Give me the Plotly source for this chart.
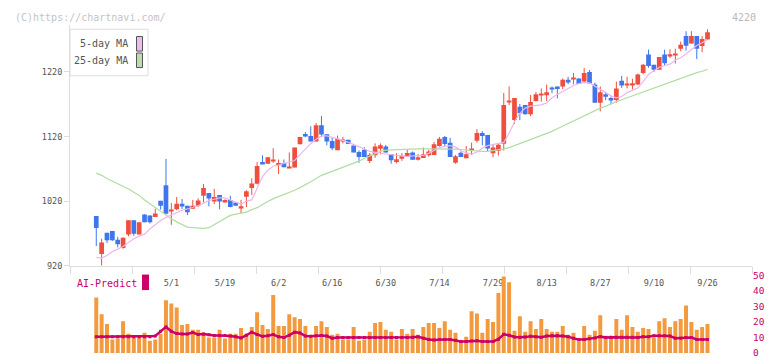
import plotly.graph_objects as go
import pandas as pd

# ---- calendar (trading days, 2025, Tokyo) ----
holidays = ["2025-04-29", "2025-05-05", "2025-05-06", "2025-07-21",
            "2025-08-11", "2025-09-15", "2025-09-23"]
_days = [d for d in pd.bdate_range("2025-04-10", "2025-09-26")
         if d.strftime("%Y-%m-%d") not in holidays]
dates = [f"{d.month}/{d.day}" for d in _days]

label_dates = ["5/1", "5/19", "6/2", "6/16", "6/30", "7/14", "7/29",
               "8/13", "8/27", "9/10", "9/26"]

# ---- OHLC ----
opens = [997, 938.5, 971, 974, 960.5, 947.5, 968.5, 990.5, 968.5, 999.5,
         998, 995.5, 1020.5, 1044.5, 1004.5, 1007.5, 1016, 1013, 1008.5, 1013,
         1028.5, 1032.5, 1019.5, 1029.5, 1019.5, 1022, 1018, 1009.5, 1027, 1040.5,
         1047, 1080.5, 1078, 1083, 1075.5, 1079, 1072, 1072, 1108, 1124,
         1121, 1112.5, 1137.5, 1123.5, 1113, 1099, 1113.5, 1115, 1106, 1096,
         1099.5, 1082, 1091, 1101, 1104.5, 1093, 1080.5, 1085.5, 1090, 1095.5,
         1084, 1087, 1091, 1091.5, 1105.5, 1119.5, 1110.5, 1079.5, 1095, 1086.5,
         1099, 1113.5, 1125.5, 1122.5, 1094, 1098, 1109, 1174, 1145.5, 1166,
         1169, 1154.5, 1175, 1185, 1184, 1196, 1197.5, 1197.5, 1208, 1209,
         1210, 1205, 1220, 1200.5, 1172.5, 1185.5, 1179.5, 1176.5, 1206.5, 1200,
         1199, 1200.5, 1218.5, 1247, 1231, 1223.5, 1247, 1244.5, 1246, 1256,
         1275.5, 1264, 1275.5, 1260, 1270]
highs = [997, 962, 971, 974, 965, 964, 990.5, 990.5, 987.5, 999.5,
         998, 1008.5, 1020.5, 1085.5, 1017, 1026.5, 1023.5, 1013, 1022, 1024.5,
         1046.5, 1032.5, 1039, 1029.5, 1023, 1028.5, 1018, 1022, 1037, 1055.5,
         1080.5, 1091, 1088, 1102, 1084.5, 1084.5, 1095.5, 1103, 1119.5, 1127,
         1136, 1141, 1152, 1123.5, 1118, 1121.5, 1119.5, 1115, 1106, 1098.5,
         1103.5, 1094.5, 1109.5, 1109.5, 1107, 1093, 1094.5, 1094.5, 1099.5, 1097,
         1093, 1103, 1099.5, 1112, 1119.5, 1121, 1118, 1091.5, 1097, 1105.5,
         1110.5, 1131.5, 1128.5, 1122.5, 1108.5, 1108.5, 1187.5, 1197.5, 1179.5, 1170.5,
         1169, 1184.5, 1189, 1194.5, 1200.5, 1197.5, 1197.5, 1210, 1212.5, 1218.5,
         1210, 1226, 1223, 1203.5, 1197.5, 1189, 1182, 1205, 1214, 1212.5,
         1209.5, 1217.5, 1232.5, 1254.5, 1231, 1243, 1254.5, 1255, 1256, 1267,
         1283, 1283, 1275.5, 1275.5, 1286]
lows = [950.5, 920.5, 955.5, 958.5, 948.5, 946.5, 965.5, 966.5, 968.5, 987.5,
        985.5, 995.5, 1007, 999.5, 983.5, 1006, 1008, 998.5, 1008.5, 1011,
        1018, 1012, 1015.5, 1007.5, 1018, 1010.5, 1013, 1001, 1011, 1029.5,
        1046, 1078, 1078, 1079.5, 1062, 1072.5, 1071, 1072, 1108, 1119,
        1112.5, 1112.5, 1119.5, 1106.5, 1099, 1099, 1109.5, 1108.5, 1095.5, 1079.5,
        1088.5, 1079, 1087, 1092.5, 1095.5, 1078, 1078.5, 1082.5, 1090, 1084,
        1083, 1087, 1089, 1091.5, 1104.5, 1105.5, 1088.5, 1078, 1088.5, 1086.5,
        1091.5, 1110.5, 1106.5, 1097.5, 1088, 1090.5, 1098.5, 1168.5, 1139.5, 1145.5,
        1154, 1151.5, 1174, 1174, 1175, 1187, 1179, 1193.5, 1201, 1201,
        1201.5, 1202.5, 1202, 1172.5, 1159, 1176.5, 1170, 1172.5, 1195, 1194.5,
        1193, 1200, 1216.5, 1226.5, 1220, 1223.5, 1229, 1241.5, 1233, 1252,
        1253, 1264, 1240, 1250.5, 1270]
closes = [978.5, 956, 959.5, 959.5, 953.5, 963.5, 990.5, 969.5, 987.5, 987.5,
          987.5, 1001, 1013, 1000.5, 1007, 1016, 1013, 1003, 1013, 1021,
          1040.5, 1024, 1026.5, 1019.5, 1022, 1011, 1013, 1012, 1035.5, 1047.5,
          1074.5, 1078, 1088, 1083.5, 1079, 1072.5, 1073, 1103, 1119.5, 1120,
          1112.5, 1137.5, 1123, 1112.5, 1102, 1116.5, 1115, 1108.5, 1095.5, 1088.5,
          1088.5, 1092, 1104.5, 1106.5, 1095.5, 1083.5, 1085, 1090.5, 1094.5, 1084,
          1088, 1092.5, 1097, 1108, 1116.5, 1108.5, 1088.5, 1089.5, 1088.5, 1092.5,
          1101.5, 1125.5, 1121, 1101.5, 1103, 1107.5, 1169, 1175.5, 1179.5, 1156,
          1154.5, 1173.5, 1185.5, 1185.5, 1188.5, 1193, 1193.5, 1208, 1203.5, 1210,
          1201.5, 1218.5, 1202, 1172.5, 1188.5, 1181.5, 1177, 1194.5, 1199, 1201.5,
          1202.5, 1216, 1231, 1229, 1223.5, 1243, 1233.5, 1247.5, 1248.5, 1262,
          1260.5, 1275.5, 1256, 1271, 1281.5]

# ---- moving averages ----
ma5 = [933, 932, 936, 942, 946, 950, 956, 962, 966, 969,
       977, 984, 990, 995, 999, 1003, 1006, 1008, 1010, 1013,
       1017, 1021, 1023, 1025, 1025, 1022, 1018, 1015, 1020, 1022,
       1040, 1058, 1068, 1074, 1076, 1078, 1080, 1083, 1092, 1101,
       1109, 1116, 1121, 1121, 1119, 1117, 1114, 1111, 1108, 1104,
       1101, 1097, 1095, 1094, 1093, 1092, 1090, 1089, 1089, 1090,
       1090, 1091, 1094, 1099, 1103, 1105, 1106, 1104, 1098, 1095,
       1093, 1096, 1102, 1106, 1108, 1110, 1111, 1125, 1143, 1156,
       1164, 1167, 1168, 1169, 1172, 1180, 1185, 1190, 1194, 1199,
       1202, 1204, 1203, 1198, 1192, 1187, 1183, 1180, 1182, 1188,
       1192, 1195, 1205, 1216, 1222, 1227, 1230, 1232, 1238, 1242,
       1248, 1255, 1261, 1265, 1270]
ma25 = [1063.5, 1060, 1055, 1051, 1047, 1044, 1039, 1034, 1029, 1022,
        1016, 1010, 1004, 999, 993, 988, 984, 980, 979, 978,
        978, 979, 984, 989, 994, 998, 1000, 1001, 1003, 1007,
        1010, 1015, 1020, 1024, 1027, 1030, 1033, 1037, 1041, 1045,
        1050, 1055, 1060, 1063, 1066, 1069, 1072, 1075, 1078, 1082,
        1086, 1090, 1094, 1097, 1099, 1099.5, 1099.5, 1099.5, 1100, 1100.5,
        1101, 1101, 1101, 1101.5, 1101.5, 1101, 1101, 1100.5, 1100, 1099,
        1098, 1097, 1097, 1097, 1098, 1099, 1101, 1103, 1106, 1109,
        1112, 1115, 1118, 1121, 1125, 1128, 1132, 1136, 1141, 1145,
        1149, 1153, 1157, 1161, 1164, 1167, 1171, 1174, 1177, 1180,
        1184, 1187, 1190, 1193, 1196, 1199, 1202, 1205, 1208, 1211,
        1214, 1216, 1219, 1221, 1224]

# ---- volume and AI-Predict ----
volume = [35.8, 25, 18.75, 8.75, 9.4, 20.6, 12.5, 10, 10, 13.1,
          8, 8.75, 12.5, 34, 31.9, 29.4, 18.1, 18.75, 15, 15,
          13.1, 10, 10, 15, 9.4, 12.5, 12.5, 16.25, 12.5, 16.9,
          26.25, 18.1, 15.6, 37.5, 17.5, 17.5, 25, 23.1, 21.9, 17.5,
          10, 17.5, 20.6, 16.9, 11.9, 12.5, 8.75, 8.75, 16.9, 8,
          8.75, 13.75, 19.4, 20, 15, 13.75, 8.75, 15.6, 12.5, 15.6,
          11.9, 16.9, 19.4, 19.4, 16.25, 20.6, 15, 13.1, 7.5, 10.6,
          26.9, 25.6, 13.1, 21.9, 20, 38.75, 49.4, 45.6, 14.4, 23.75,
          13.75, 20.6, 15.6, 21.9, 15.6, 13.75, 13.75, 17.5, 11.9, 13.1,
          8, 17.5, 11.9, 14.4, 24.4, 11.25, 10, 21.9, 15, 24.4,
          16.9, 13.75, 16.25, 15.6, 10, 20.6, 22.5, 16.9, 20.6, 21.9,
          30.6, 20, 15, 16.9, 18.75]
ai_predict = [10.6, 10.6, 10.6, 10.6, 10.6, 10.6, 10.6, 10.6, 10.6, 10.6,
              10.6, 11, 14, 16.9, 14, 12.6, 12.3, 12.3, 13.2, 12,
              12.3, 11.8, 11.3, 11.3, 11.3, 11, 10.5, 9.8, 11.5, 13.5,
              12, 10.8, 11.2, 12, 10.5, 10, 11.5, 13.5, 13, 11,
              10.8, 11.2, 11.3, 11, 9.6, 10, 10, 10, 10, 10,
              10, 10, 10, 10, 10, 10, 10, 10, 10, 10.2,
              10.5, 9.6, 8.75, 8.5, 8.75, 8.75, 8.75, 8.2, 7.5, 7.5,
              7.8, 8, 7.5, 7.5, 7.5, 9, 12.1, 11.5, 10.4, 10.2,
              10.3, 10.9, 10.5, 10.2, 11, 11.25, 11.25, 11, 10.6, 9.5,
              8.75, 8.75, 9.2, 9.8, 10.6, 10, 10.2, 10.2, 10.2, 10.2,
              10.2, 10, 10.6, 10.6, 11.25, 11.25, 11.25, 11, 9.6, 9.6,
              10, 10, 8.75, 8.75, 8.75]

# ---- styling ----
W, H = 772, 361
UP, DOWN = "#ef4f3f", "#3f76ee"
FONT = "DejaVu Sans Mono"
AX = "#dddddd"
MAG = "#cc0066"


def px(x):
    return x / W


def py(y):
    return 1 - y / H


idx = list(range(len(dates)))
XR = [-4.9, 122.3]

fig = go.Figure()

# wicks
for col, cond in ((UP, lambda o, c: c >= o), (DOWN, lambda o, c: c < o)):
    wx, wy = [], []
    for i in idx:
        if cond(opens[i], closes[i]):
            wx += [i, i, None]
            wy += [lows[i], highs[i], None]
    fig.add_trace(go.Scatter(x=wx, y=wy, mode="lines", line=dict(color=col, width=1),
                             hoverinfo="skip", showlegend=False, xaxis="x", yaxis="y"))

# bodies
base = [min(o, c) for o, c in zip(opens, closes)]
height = [max(abs(c - o), 1.5) for o, c in zip(opens, closes)]
bcol = [UP if c >= o else DOWN for o, c in zip(opens, closes)]
fig.add_trace(go.Bar(x=idx, y=height, base=base, marker=dict(color=bcol, line=dict(width=0)),
                     width=0.88, showlegend=False, xaxis="x", yaxis="y"))

# MAs
fig.add_trace(go.Scatter(x=idx, y=ma25, mode="lines", line=dict(color="#b2dca2", width=1.2),
                         showlegend=False, xaxis="x", yaxis="y"))
fig.add_trace(go.Scatter(x=idx, y=ma5, mode="lines", line=dict(color="#ecb6ec", width=1.2),
                         showlegend=False, xaxis="x", yaxis="y"))

# volume
fig.add_trace(go.Bar(x=idx, y=volume, marker=dict(color="#f39a3f", line=dict(width=0)),
                     width=0.74, showlegend=False, xaxis="x2", yaxis="y2"))
fig.add_trace(go.Scatter(x=idx, y=ai_predict, mode="lines+markers",
                         line=dict(color=MAG, width=2.5),
                         marker=dict(color=MAG, size=3, symbol="square"),
                         showlegend=False, xaxis="x2", yaxis="y2"))

tick_font = dict(family=FONT, size=8.5, color="#555555")
dom_x = [px(70), px(752)]
n_div = 11
grid_ticks = [XR[0] + (XR[1] - XR[0]) * k / n_div for k in range(n_div + 1)]

fig.update_layout(
    width=W, height=H, margin=dict(l=0, r=0, t=0, b=0),
    paper_bgcolor="white", plot_bgcolor="white",
    barmode="overlay", showlegend=False, hovermode=False,
    xaxis=dict(domain=dom_x, range=XR, anchor="y", showgrid=False, zeroline=False,
               showline=True, linecolor=AX, linewidth=1,
               tickmode="array", tickvals=grid_ticks, ticks="outside", ticklen=7,
               tickcolor=AX, showticklabels=False),
    xaxis3=dict(overlaying="x", anchor="y", range=XR, side="bottom", showgrid=False,
                zeroline=False, showline=False, tickmode="array",
                tickvals=[dates.index(d) for d in label_dates], ticktext=label_dates,
                ticks="outside", ticklen=9, tickcolor="rgba(0,0,0,0)", tickfont=tick_font),
    yaxis=dict(domain=[py(268), py(20)], range=[920, 1292], anchor="x", showgrid=False,
               zeroline=False, showline=True, linecolor=AX, linewidth=1,
               tickmode="array", tickvals=[920, 1020, 1120, 1220], ticks="outside",
               ticklen=5, tickcolor=AX, tickfont=tick_font),
    xaxis2=dict(domain=dom_x, range=XR, anchor="y2", visible=False),
    yaxis2=dict(domain=[py(358), py(278)], range=[0, 50], anchor="x2", side="right",
                showgrid=False, zeroline=False, showline=False, ticks="",
                tickmode="array", tickvals=[0, 10, 20, 30, 40, 50],
                tickfont=dict(family=FONT, size=9.5, color=MAG)),
)

# dummy trace so xaxis3 renders
fig.add_trace(go.Scatter(x=[0], y=[None], xaxis="x3", yaxis="y", showlegend=False,
                         hoverinfo="skip"))

# watermark and code
fig.add_annotation(text="(C)https://chartnavi.com/", xref="paper", yref="paper",
                   x=px(13), y=py(12), xanchor="left", yanchor="middle", showarrow=False,
                   font=dict(family=FONT, size=10, color="#c4c4c4"))
fig.add_annotation(text="4220", xref="paper", yref="paper", x=px(758), y=py(12),
                   xanchor="right", yanchor="middle", showarrow=False,
                   font=dict(family=FONT, size=10, color="#b8b8b8"))

# legend box
fig.add_shape(type="rect", xref="paper", yref="paper", x0=px(70), x1=px(148),
              y0=py(72), y1=py(24), line=dict(color="#dddddd", width=1), fillcolor="white",
              layer="above")
for txt, yc, fill in (("5-day MA", 39, "#eebbee"), ("25-day MA", 56, "#bcdcb0")):
    fig.add_annotation(text=txt, xref="paper", yref="paper", x=px(130), y=py(yc),
                       xanchor="right", yanchor="middle", showarrow=False,
                       font=dict(family=FONT, size=10, color="#555555"))
    fig.add_shape(type="rect", xref="paper", yref="paper", x0=px(136.5), x1=px(142.5),
                  y0=py(yc + 7.5), y1=py(yc - 7.5), line=dict(color="#555555", width=1),
                  fillcolor=fill, layer="above")

# AI-Predict label
fig.add_annotation(text="AI-Predict", xref="paper", yref="paper", x=px(75), y=py(286),
                   xanchor="left", yanchor="middle", showarrow=False,
                   font=dict(family=FONT, size=10, color=MAG))
fig.add_shape(type="rect", xref="paper", yref="paper", x0=px(142), x1=px(149),
              y0=py(293), y1=py(277), line=dict(width=0), fillcolor=MAG)

fig.write_html("out.html", config={"displayModeBar": False},
               post_script="document.body.style.margin='0';document.body.style.overflow='hidden';")
